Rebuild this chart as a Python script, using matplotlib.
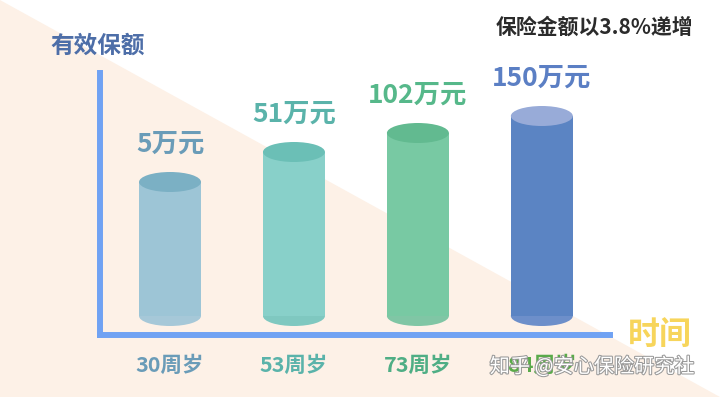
import matplotlib
matplotlib.use('Agg')
import matplotlib.pyplot as plt
from matplotlib.patches import Ellipse, Polygon
import matplotlib.patheffects as pe

plt.rcParams['font.family'] = ['Noto Sans CJK SC', 'DejaVu Sans']

# data (bar heights are the drawn heights, the picture is not to scale)
ages = ['30周岁', '53周岁', '73周岁', '84周岁']
amounts = ['5万元', '51万元', '102万元', '150万元']
bar_heights = [134, 164, 183, 200]

body_colors = ['#9dc5d6', '#88d0c9', '#78c9a3', '#5b84c3']
top_colors = ['#7bb0c4', '#6bbfb6', '#62ba90', '#98abd8']
base_colors = ['#a6c8d8', '#7fc8c0', '#80c6a5', '#6d8fca']
label_colors = ['#6a9cb8', '#5ab3aa', '#56b88a', '#5b7fc4']
age_colors = ['#6a9cb8', '#5ab3aa', '#4fae85', '#5aaa4a']

fig = plt.figure(figsize=(7.2, 3.97), dpi=100)
fig.patch.set_facecolor('white')

# peach triangle in the lower left half
bg = fig.add_axes([0, 0, 1, 1])
bg.set_axis_off()
bg.set_xlim(0, 1)
bg.set_ylim(0, 1)
bg.add_patch(Polygon([(0, 1), (0, 0), (1, 0)], closed=True,
                     facecolor='#fdf1e7', edgecolor='none'))

ax = fig.add_axes([100/720, 62/397, 510/720, 262/397])
ax.patch.set_alpha(0)
ax.set_xlim(-0.565, 3.55)
ax.set_ylim(-19, 243)
for s in ['top', 'right']:
    ax.spines[s].set_visible(False)
for s in ['left', 'bottom']:
    ax.spines[s].set_color('#70a2f3')
    ax.spines[s].set_linewidth(4.3)
ax.set_xticks([])
ax.set_yticks([])

w = 0.5
eh = 20
for i, h in enumerate(bar_heights):
    ax.add_patch(Ellipse((i, 0), w, eh, facecolor=base_colors[i],
                         edgecolor='none', zorder=2))
    ax.bar(i, h, width=w, color=body_colors[i], zorder=3)
    ax.add_patch(Ellipse((i, h), w, eh, facecolor=top_colors[i],
                         edgecolor='none', zorder=4))
    ax.text(i, h + 38, amounts[i], ha='center', va='center', fontsize=19,
            fontweight='bold', color=label_colors[i])
    ax.text(i, -49, ages[i], ha='center', va='center', fontsize=15.5,
            fontweight='bold', color=age_colors[i])

fig.text(98/720, 1 - 46/397, '有效保额', ha='center', va='center',
         fontsize=17, fontweight='bold', color='#4d6ea8')
fig.text(660/720, 1 - 335/397, '时间', ha='center', va='center',
         fontsize=23, fontweight='bold', color='#f7d55b')
fig.text(594/720, 1 - 27/397, '保险金额以3.8%递增', ha='center', va='center',
         fontsize=15, fontweight='bold', color='#2b2b2b')
fig.text(592/720, 1 - 367/397, '知乎 @安心保险研究社', ha='center', va='center',
         fontsize=14.5, color='white',
         path_effects=[pe.withStroke(linewidth=1.5, foreground='#999999')])

plt.savefig('out.png', dpi=100)
